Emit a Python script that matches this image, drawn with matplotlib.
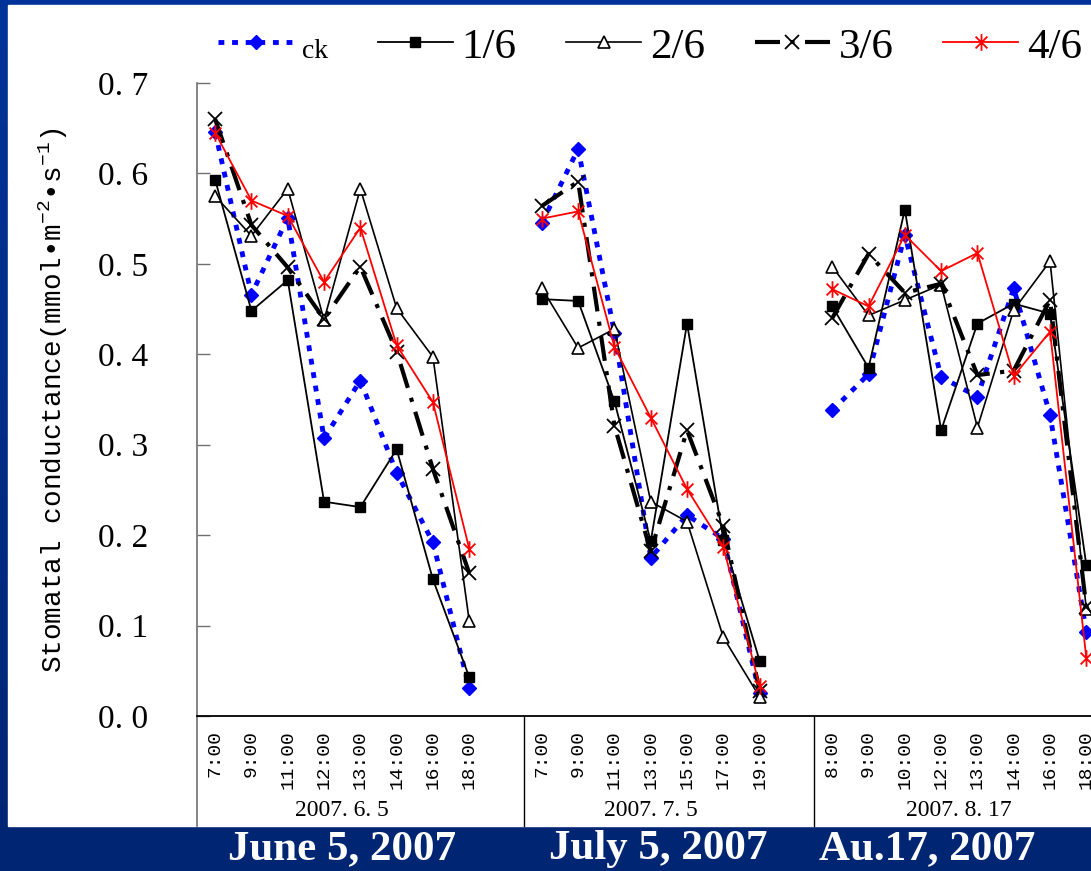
import numpy as np
import matplotlib
matplotlib.use('Agg')
import matplotlib.pyplot as plt
from matplotlib.path import Path
from matplotlib.patches import Rectangle
from matplotlib.colors import LinearSegmentedColormap

plt.rcParams['mathtext.fontset'] = 'custom'
plt.rcParams['mathtext.rm'] = 'Liberation Mono'
plt.rcParams['mathtext.it'] = 'Liberation Mono'

# sampling times for the three days (gap category between days)
g1_times = ['7:00', '9:00', '11:00', '12:00', '13:00', '14:00', '16:00', '18:00']
g2_times = ['7:00', '9:00', '11:00', '13:00', '15:00', '17:00', '19:00']
g3_times = ['8:00', '9:00', '10:00', '12:00', '13:00', '14:00', '16:00', '18:00']
dates = ['2007. 6. 5', '2007. 7. 5', '2007. 8. 17']
slide_titles = ['June 5, 2007', 'July 5, 2007', 'Au.17, 2007']

ck_1 = [0.646, 0.466, 0.551, 0.307, 0.371, 0.269, 0.192, 0.031]
ck_2 = [0.545, 0.627, 0.424, 0.175, 0.222, 0.196, 0.025]
ck_3 = [0.338, 0.378, 0.532, 0.375, 0.353, 0.473, 0.333, 0.093]

t16_1 = [0.593, 0.448, 0.482, 0.237, 0.231, 0.295, 0.151, 0.043]
t16_2 = [0.461, 0.459, 0.348, 0.193, 0.434, 0.195, 0.061]
t16_3 = [0.453, 0.385, 0.560, 0.316, 0.434, 0.456, 0.445, 0.167]

t26_1 = [0.575, 0.531, 0.583, 0.438, 0.583, 0.451, 0.397, 0.105]
t26_2 = [0.473, 0.407, 0.428, 0.237, 0.215, 0.087, 0.021]
t26_3 = [0.497, 0.443, 0.460, 0.477, 0.319, 0.449, 0.503, 0.118]

t36_1 = [0.660, 0.543, 0.496, 0.439, 0.497, 0.403, 0.273, 0.158]
t36_2 = [0.564, 0.591, 0.321, 0.182, 0.316, 0.210, 0.028]
t36_3 = [0.440, 0.511, 0.468, 0.478, 0.377, 0.382, 0.460, 0.120]

t46_1 = [0.645, 0.570, 0.553, 0.480, 0.540, 0.410, 0.347, 0.185]
t46_2 = [0.550, 0.558, 0.408, 0.330, 0.251, 0.187, 0.033]
t46_3 = [0.472, 0.453, 0.532, 0.492, 0.512, 0.376, 0.425, 0.064]


def join(a, b, c):
    return np.array(a + [np.nan] + b + [np.nan] + c)


labels = g1_times + [''] + g2_times + [''] + g3_times
x = np.arange(len(labels))
n1, n2 = len(g1_times), len(g2_times)
sep1 = n1 - 0.5 + 1
sep2 = n1 + 1 + n2 - 0.5 + 1
centers = [(n1 - 1) / 2, n1 + 1 + (n2 - 1) / 2, n1 + n2 + 2 + (len(g3_times) - 1) / 2]

W, H = 1091, 871
fig = plt.figure(figsize=(W / 100, H / 100), dpi=100)

# slide background
bg = fig.add_axes([0, 0, 1, 1], zorder=-10)
bg.axis('off')
cmap = LinearSegmentedColormap.from_list('slide', ['#003399', '#002572'])
bg.imshow(np.linspace(0, 1, 256).reshape(-1, 1)[::-1], extent=[0, 1, 0, 1],
          aspect='auto', cmap=cmap, origin='lower')
bg.add_patch(Rectangle((8 / W, 1 - 826 / H), 1, 821 / H, color='white'))
bg.set_xlim(0, 1)
bg.set_ylim(0, 1)

ax = fig.add_axes([197 / W, 1 - 716 / H, 922 / W, 633 / H])
ax.set_facecolor('none')

star = Path([(-0.85, -0.85), (0.85, 0.85), (-0.85, 0.85), (0.85, -0.85), (0, -1.2), (0, 1.2)],
            [Path.MOVETO, Path.LINETO, Path.MOVETO, Path.LINETO, Path.MOVETO, Path.LINETO])

l_ck, = ax.plot(x, join(ck_1, ck_2, ck_3), color='#0000ff', lw=3.5, ls=(0, (1.2, 1.6)),
                marker='D', ms=7, label='ck', dash_capstyle='butt')
l16, = ax.plot(x, join(t16_1, t16_2, t16_3), color='black', lw=1.3,
               marker='s', ms=7, label='1/6')
l26, = ax.plot(x, join(t26_1, t26_2, t26_3), color='black', lw=1.2,
               marker='^', ms=9, mfc='white', mec='black', mew=1.2, label='2/6')
l36, = ax.plot(x, join(t36_1, t36_2, t36_3), color='black', lw=3, ls=(0, (6, 2.5, 1, 2.5)),
               marker='x', ms=10, mew=1.3, label='3/6', dash_capstyle='butt')
l46, = ax.plot(x, join(t46_1, t46_2, t46_3), color='#ff0000', lw=1.3,
               marker=star, ms=12, mew=1.3, label='4/6')

ax.set_xlim(-0.5, 24.9)
ax.set_ylim(0, 0.7)
ax.set_yticks(np.arange(0, 0.71, 0.1))
ax.set_yticklabels([f'{v:.1f}'.replace('.', '. ') for v in np.arange(0, 0.71, 0.1)],
                   family='Liberation Serif', fontsize=24)
ax.tick_params(axis='y', direction='in', length=9, width=1, color='#707070', pad=35)
ax.set_xticks(x)
ax.set_xticklabels(labels, rotation=90, family='Liberation Mono', fontsize=14)
ax.tick_params(axis='x', length=0, pad=10)

for s in ['top', 'right']:
    ax.spines[s].set_visible(False)
ax.spines['left'].set_color('#707070')
ax.spines['left'].set_linewidth(1.2)
ax.spines['bottom'].set_linewidth(1.3)

# category group separators below the axis
trans = ax.get_xaxis_transform()
ax.plot([-0.5, -0.5], [0, -0.174], transform=trans, color='#707070', lw=1.2, clip_on=False)
for sx in [sep1, sep2]:
    ax.plot([sx, sx], [0, -0.174], transform=trans, color='black', lw=1, clip_on=False)
for cx, d in zip(centers, dates):
    ax.text(cx, -0.149, d, transform=trans, ha='center', va='center',
            family='Liberation Serif', fontsize=17)

fig.text(53 / W, 1 - 400 / H, 'Stomatal conductance(mmol•m$^{-2}$•s$^{-1}$)',
         rotation=90, ha='center', va='center', family='Liberation Mono', fontsize=20)

leg = fig.legend(handles=[l_ck, l16, l26, l36, l46], loc='center left',
                 bbox_to_anchor=(218 / W, 1 - 47 / H), ncol=5, frameon=False,
                 prop={'family': 'Liberation Serif', 'size': 31}, handlelength=1.75,
                 handletextpad=0.2, columnspacing=1.15, borderaxespad=0, borderpad=0,
                 numpoints=1)
leg.get_texts()[0].set_fontsize(20)

for cx, t in zip([342, 658, 927], slide_titles):
    fig.text(cx / W, 1 - 849 / H, t, color='white', fontweight='bold',
             family='Liberation Serif', fontsize=31, ha='center', va='center')

fig.savefig('out.png', dpi=100)
